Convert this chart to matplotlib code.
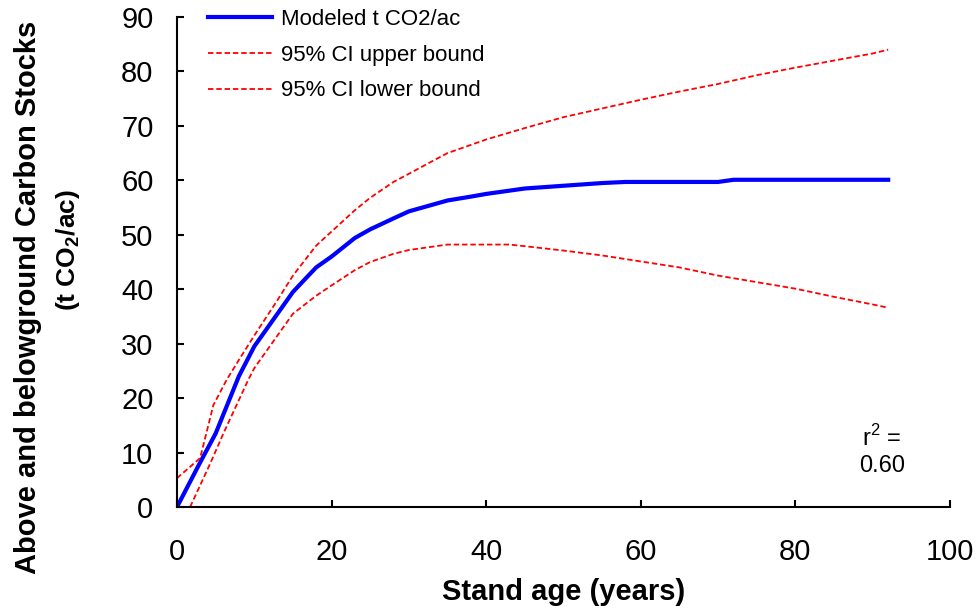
import matplotlib.pyplot as plt

# data
age_model = [0, 3, 5, 8, 10, 13, 15, 18, 20, 23, 25, 28, 30, 33, 35, 38, 40,
             45, 50, 55, 58, 65, 70, 72, 80, 92]
co2_model = [0, 8.2, 13.5, 24.0, 29.5, 35.5, 39.5, 44.0, 46.0, 49.4, 51.0, 53.0,
             54.3, 55.5, 56.3, 57.0, 57.5, 58.5, 59.0, 59.5, 59.7, 59.7, 59.7,
             60.1, 60.1, 60.1]

age_upper = [0, 3, 4.7, 6.4, 8, 10, 13, 15, 18, 20, 23, 25, 28, 30, 33, 35, 38,
             40, 45, 50, 55, 60, 65, 70, 75, 80, 85, 90, 92]
co2_upper = [5.3, 9.0, 18.7, 23.3, 27.0, 31.5, 38.0, 42.5, 48.0, 50.6, 54.5,
             56.8, 59.7, 61.2, 63.5, 65.0, 66.5, 67.5, 69.6, 71.6, 73.2, 74.8,
             76.3, 77.7, 79.3, 80.7, 82.0, 83.3, 84.0]

age_lower = [1.7, 4.3, 6, 9.2, 10, 13, 15, 18, 20, 23, 25, 28, 30, 33, 35, 40,
             43, 45, 50, 55, 60, 65, 70, 75, 80, 85, 90, 92]
co2_lower = [0, 8.0, 13.5, 23.3, 25.5, 31.5, 35.5, 38.8, 40.7, 43.5, 45.0, 46.5,
             47.2, 47.8, 48.2, 48.2, 48.2, 47.9, 47.1, 46.2, 45.1, 44.0, 42.5,
             41.3, 40.1, 38.6, 37.2, 36.6]

plt.rcParams['font.family'] = ['Liberation Sans', 'DejaVu Sans']

fig = plt.figure(figsize=(9.8, 6.15), dpi=100)
ax = fig.add_axes([0.1806, 0.1756, 0.7888, 0.7968])

ax.plot(age_model, co2_model, color='#0000ff', lw=3, label='Modeled t CO2/ac',
        solid_joinstyle='round')
ax.plot(age_upper, co2_upper, color='#ff0000', lw=1.3, dashes=(3, 1.6),
        label='95% CI upper bound')
ax.plot(age_lower, co2_lower, color='#ff0000', lw=1.3, dashes=(3, 1.6),
        label='95% CI lower bound')

ax.set_xlim(0, 100)
ax.set_ylim(0, 90)
ax.set_xticks(range(0, 101, 20))
ax.set_yticks(range(0, 91, 10))
ax.spines['top'].set_visible(False)
ax.spines['right'].set_visible(False)
ax.spines['left'].set_linewidth(1.5)
ax.spines['bottom'].set_linewidth(1.5)
ax.tick_params(direction='in', length=5, width=1.5, labelsize=21)
ax.tick_params(axis='x', pad=22)
ax.tick_params(axis='y', pad=17)

ax.set_xlabel('Stand age (years)', fontsize=21, fontweight='bold', labelpad=9)

# two-line y title, drawn as separate lines like the original
ax.text(-0.1928, 0.4286, 'Above and belowground Carbon Stocks',
        transform=ax.transAxes, rotation=90, ha='center', va='center',
        fontsize=21, fontweight='bold')
ax.text(-0.141, 0.5245, '(t CO$_\\mathregular{2}$/ac)',
        transform=ax.transAxes, rotation=90, ha='center', va='center',
        fontsize=19, fontweight='bold')

ax.legend(loc='upper left', bbox_to_anchor=(0.040, 1.016), frameon=False,
          fontsize=16, handlelength=2.9, handletextpad=0.4,
          labelspacing=0.66, borderpad=0, borderaxespad=0)

ax.text(0.912, 0.114, 'r$^\\mathregular{2}$ =\n0.60', transform=ax.transAxes,
        ha='center', va='center', fontsize=17, linespacing=1.2)

fig.savefig('out.png', dpi=100)
